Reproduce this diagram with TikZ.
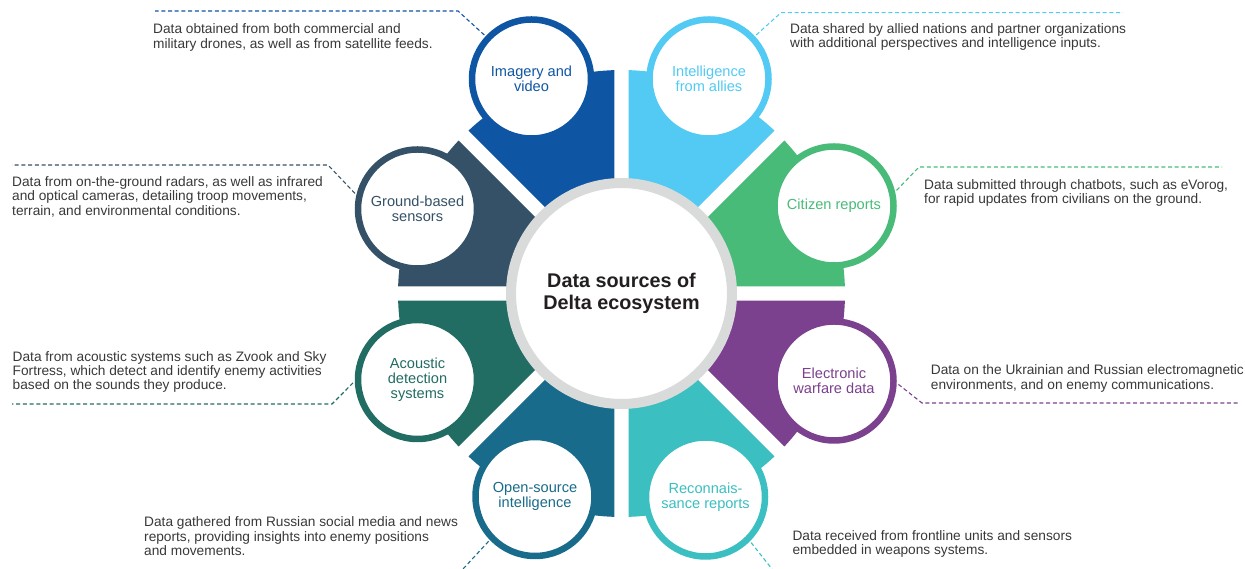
\documentclass[tikz,border=0pt]{standalone}
\usepackage{fontspec}
\setmainfont{Liberation Sans}
\usetikzlibrary{calc}

\definecolor{cImg}{HTML}{0E55A4}
\definecolor{cInt}{HTML}{52CAF3}
\definecolor{cCit}{HTML}{49BB79}
\definecolor{cEle}{HTML}{7B418F}
\definecolor{cRec}{HTML}{3BBFC0}
\definecolor{cOsi}{HTML}{196B8B}
\definecolor{cAco}{HTML}{226D63}
\definecolor{cGro}{HTML}{345167}
\definecolor{cRing}{HTML}{D9DADA}
\definecolor{cHub}{HTML}{231F20}
\definecolor{bodytext}{HTML}{383838}

\begin{document}
\begin{tikzpicture}[x=1pt,y=1pt,
  bubble/.style={circle, draw=#1, text=#1, line width=6.5pt, fill=white,
    minimum size=119pt, inner sep=0pt, outer sep=5pt, align=center,
    font=\fontsize{14.6}{15}\selectfont},
  note/.style={anchor=west, align=left, inner sep=0pt, text=bodytext,
    font=\fontsize{13.7}{14.4}\selectfont},
  leader/.style={draw=#1, line width=1.1pt, dash pattern=on 4pt off 2.7pt}
]
\useasboundingbox (0,0) rectangle (1245,569);
\coordinate (C) at (621.5,275.5);

% eight coloured sectors, separated by 14pt wide gaps
\foreach \a/\c in {22.5/cCit, 67.5/cInt, 112.5/cImg, 157.5/cGro,
                   202.5/cAco, 247.5/cOsi, 292.5/cRec, 337.5/cEle}
  \fill[\c] ($(C)+(\a:18.3)$) -- ($(C)+(\a-20.7:223.5)$)
    arc[start angle=\a-20.7, end angle=\a+20.7, radius=223.5] -- cycle;

% hub
\node[circle, draw=cRing, line width=10pt, fill=white, minimum size=221pt,
  inner sep=0pt, align=center, text=cHub,
  font=\bfseries\fontsize{19.8}{21.7}\selectfont] (hub) at (C)
  {Data sources of\\Delta ecosystem};

% source bubbles
\node[bubble=cImg] (img) at (531.5,490) {Imagery and\\video};
\node[bubble=cInt] (int) at (709,490) {Intelligence\\from allies};
\node[bubble=cCit] (cit) at (834,363) {Citizen reports};
\node[bubble=cEle] (ele) at (834,188) {Electronic\\warfare data};
\node[bubble=cRec] (rec) at (705.5,72) {Reconnais-\\sance reports};
\node[bubble=cOsi] (osi) at (535,72.5) {Open-source\\intelligence};
\node[bubble=cAco] (aco) at (417.5,189.5) {Acoustic\\detection\\systems};
\node[bubble=cGro] (gro) at (417.5,360) {Ground-based\\sensors};

% leader line bends and ends
\coordinate (imgA) at (458,558);   \coordinate (imgB) at (155,558);
\coordinate (intA) at (781,556.3); \coordinate (intB) at (1123,556.3);
\coordinate (citA) at (919,402);   \coordinate (citB) at (1222,402);
\coordinate (groA) at (328,404);   \coordinate (groB) at (12,404);
\coordinate (acoA) at (332,165);   \coordinate (acoB) at (12,165);
\coordinate (eleA) at (922,166);   \coordinate (eleB) at (1240,166);
\coordinate (osiA) at (463,0);
\coordinate (recA) at (772,0);

\draw[leader=cImg] (img.137) -- (imgA) -- (imgB);
\draw[leader=cInt] (int.43) -- (intA) -- (intB);
\draw[leader=cCit] (cit.14) -- (citA) -- (citB);
\draw[leader=cGro] (gro.166) -- (groA) -- (groB);
\draw[leader=cAco] (aco.183) -- (acoA) -- (acoB);
\draw[leader=cEle] (ele.357) -- (eleA) -- (eleB);
\draw[leader=cOsi] (osi.224) -- (osiA);
\draw[leader=cRec] (rec.315) -- (recA);

% descriptions
\node[note] (imgT) at (153,531.5) {Data obtained from both commercial and\\military drones, as well as from satellite feeds.};
\node[note] (intT) at (790,532.2) {Data shared by allied nations and partner organizations\\with additional perspectives and intelligence inputs.};
\node[note] (citT) at (924,376.2) {Data submitted through chatbots, such as eVorog,\\for rapid updates from civilians on the ground.};
\node[note] (groT) at (12,372.3) {Data from on-the-ground radars, as well as infrared\\and optical cameras, detailing troop movements,\\terrain, and environmental conditions.};
\node[note] (acoT) at (12.5,197) {Data from acoustic systems such as Zvook and Sky\\Fortress, which detect and identify enemy activities\\based on the sounds they produce.};
\node[note] (eleT) at (930.7,190.7) {Data on the Ukrainian and Russian electromagnetic\\environments, and on enemy communications.};
\node[note] (osiT) at (144,32.5) {Data gathered from Russian social media and news\\reports, providing insights into enemy positions\\and movements.};
\node[note] (recT) at (792.3,25.2) {Data received from frontline units and sensors\\embedded in weapons systems.};
\end{tikzpicture}
\end{document}
